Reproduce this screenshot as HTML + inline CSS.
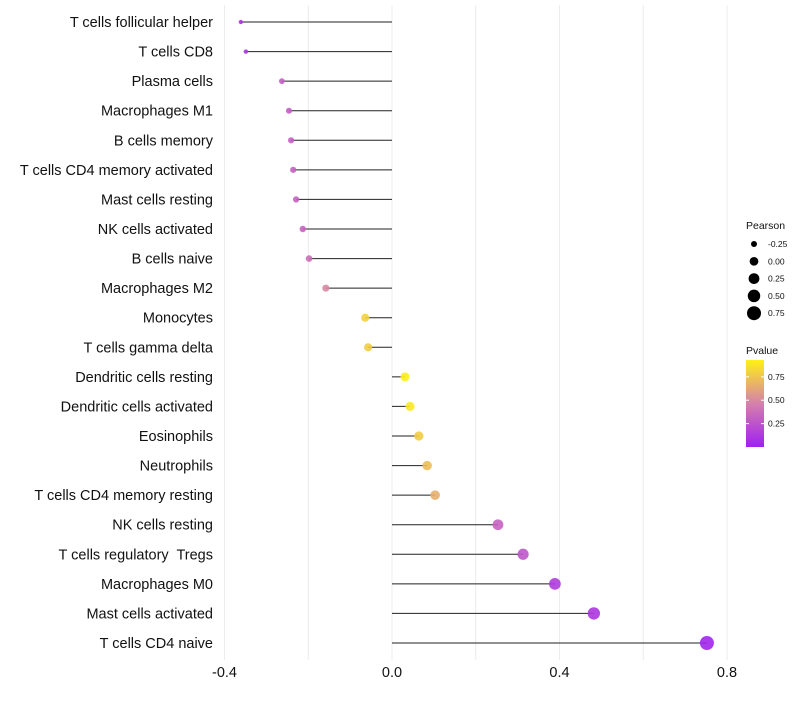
<!DOCTYPE html>
<html><head><meta charset="utf-8"><style>
body{margin:0;background:#fff;font-family:"Liberation Sans",sans-serif}
svg text{font-family:"Liberation Sans",sans-serif;white-space:pre}
</style></head><body>
<svg id="chart" width="800" height="700" viewBox="0 0 800 700" xmlns="http://www.w3.org/2000/svg" xml:space="preserve">
<g id="grid"></g><g id="marks"></g><g id="labels"></g><g id="xaxis"></g><g id="legend"></g>
</svg>
<script>
const categories=["T cells follicular helper","T cells CD8","Plasma cells","Macrophages M1","B cells memory","T cells CD4 memory activated","Mast cells resting","NK cells activated","B cells naive","Macrophages M2","Monocytes","T cells gamma delta","Dendritic cells resting","Dendritic cells activated","Eosinophils","Neutrophils","T cells CD4 memory resting","NK cells resting","T cells regulatory  Tregs","Macrophages M0","Mast cells activated","T cells CD4 naive"];
const pearson=[-0.361,-0.349,-0.263,-0.246,-0.241,-0.236,-0.229,-0.213,-0.198,-0.158,-0.064,-0.057,0.031,0.043,0.064,0.084,0.103,0.253,0.313,0.389,0.482,0.752];
const pvalue=[0.08,0.10,0.30,0.30,0.30,0.31,0.32,0.33,0.38,0.50,0.80,0.78,0.92,0.90,0.78,0.72,0.66,0.32,0.26,0.14,0.10,0.03];
const xTicks=[-0.4,0,0.4,0.8];
const xTickLabels=["-0.4","0.0","0.4","0.8"];
const gridVals=[-0.4,-0.2,0,0.2,0.4,0.6,0.8];
const sizeLegend=[-0.25,0,0.25,0.5,0.75];
const colorLegend=[0.75,0.5,0.25];

const NS="http://www.w3.org/2000/svg";
const x=v=>392+v*418.75;
const y=i=>22+i*(621/21);
const r=v=>Math.sqrt(Math.max(2.5,19+40*v));
const pMin=0,pMax=0.93;
function col(p){
  let t=Math.min(1,Math.max(0,(p-pMin)/(pMax-pMin)));
  const a=[160,32,240],b=[214,128,172],c=[255,240,20];
  let s,e,u;
  if(t<0.5){s=a;e=b;u=t/0.5}else{s=b;e=c;u=(t-0.5)/0.5}
  return `rgb(${s.map((v,k)=>Math.round(v+(e[k]-v)*u)).join(',')})`;
}
function mk(tag,attrs,parent){const el=document.createElementNS(NS,tag);for(const k in attrs)el.setAttribute(k,attrs[k]);parent.appendChild(el);return el;}
const G=document.getElementById('grid'),M=document.getElementById('marks'),L=document.getElementById('labels'),X=document.getElementById('xaxis'),LG=document.getElementById('legend');
gridVals.forEach(v=>{const l=mk('line',{x1:x(v),x2:x(v),y1:5,y2:660,stroke:'#ececec','stroke-width':1},G);

});
categories.forEach((c,i)=>{
  const ln=mk('line',{x1:x(0),x2:x(pearson[i]),y1:y(i),y2:y(i),stroke:'#222','stroke-width':1},M);
  
  
  const pt=mk('circle',{cx:x(pearson[i]),cy:y(i),r:r(pearson[i]),fill:col(pvalue[i]),'fill-opacity':0.9},M);
  
  
  const t=mk('text',{x:213,y:y(i)+5,'text-anchor':'end','font-size':14.5,fill:'#111'},L);t.textContent=c;
  
  
});
xTicks.forEach((v,i)=>{const t=mk('text',{x:x(v),y:677,'text-anchor':'middle','font-size':14.5,fill:'#111'},X);t.textContent=xTickLabels[i];

});
let t=mk('text',{x:746,y:229,'font-size':10.5,fill:'#111'},LG);t.textContent='Pearson';


sizeLegend.forEach((v,i)=>{const cy=244+i*17.3;const c=mk('circle',{cx:754,cy:cy,r:r(v),fill:'#000'},LG);


const tt=mk('text',{x:768,y:cy+3,'font-size':8.5,fill:'#111'},LG);tt.textContent=v.toFixed(2);

});
t=mk('text',{x:746,y:354,'font-size':10.5,fill:'#111'},LG);t.textContent='Pvalue';


const defs=mk('defs',{},LG);const gr=mk('linearGradient',{id:'pg',x1:0,y1:1,x2:0,y2:0},defs);
for(let k=0;k<=10;k++){mk('stop',{offset:k/10,'stop-color':col(pMin+(pMax-pMin)*k/10)},gr);}
const yc=p=>447-(p-pMin)/(pMax-pMin)*87;
const bar=mk('rect',{x:746,y:360,width:18,height:87,fill:'url(#pg)'},LG);


colorLegend.forEach(v=>{mk('line',{x1:746,x2:749,y1:yc(v),y2:yc(v),stroke:'#fff'},LG);mk('line',{x1:761,x2:764,y1:yc(v),y2:yc(v),stroke:'#fff'},LG);
const tt=mk('text',{x:768,y:yc(v)+3,'font-size':8.5,fill:'#111'},LG);tt.textContent=v.toFixed(2);

});
</script>
</body></html>
